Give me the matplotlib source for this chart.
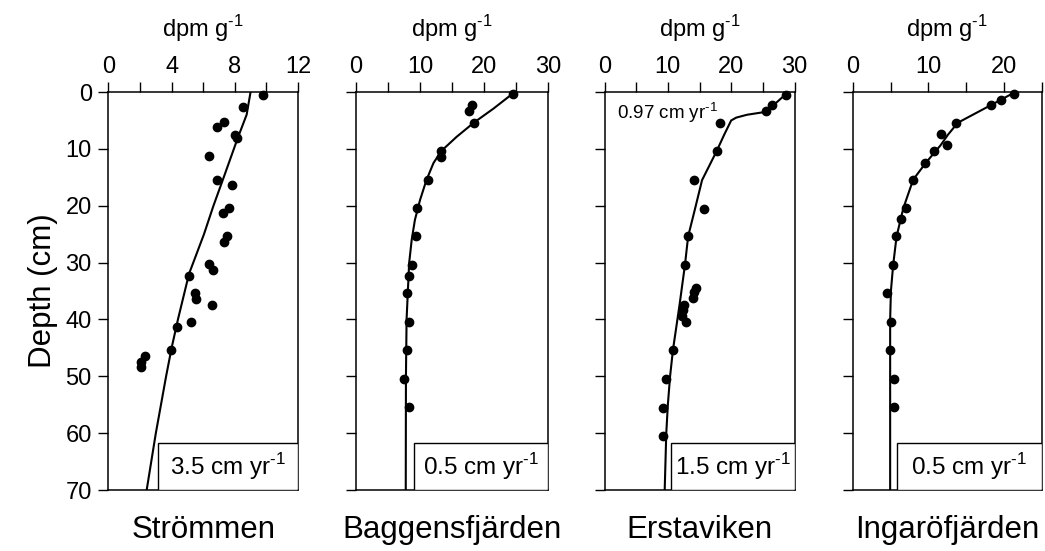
import matplotlib
matplotlib.use('Agg')
import matplotlib.pyplot as plt
from matplotlib.patches import Rectangle

plt.rcParams['font.family'] = ['Liberation Sans', 'DejaVu Sans']
plt.rcParams['mathtext.fontset'] = 'custom'
plt.rcParams['mathtext.rm'] = 'Liberation Sans'

# station names
stations = ['Strömmen', 'Baggensfjärden', 'Erstaviken', 'Ingaröfjärden']
rates = ['3.5', '0.5', '1.5', '0.5']

# measured profiles (depth cm, activity dpm/g)
strommen_depth = [0.5, 2.6, 5.2, 6.2, 7.6, 8.1, 11.3, 15.5, 16.4, 20.4, 21.3, 25.3, 26.4,
                  30.3, 31.3, 32.3, 35.4, 36.4, 37.4, 40.4, 41.4, 45.4, 46.4, 47.4, 48.4]
strommen_act = [9.8, 8.5, 7.3, 6.85, 8.0, 8.15, 6.35, 6.9, 7.8, 7.65, 7.25, 7.5, 7.3,
                6.35, 6.65, 5.07, 5.5, 5.55, 6.55, 5.2, 4.35, 3.97, 2.3, 2.04, 2.06]
baggen_depth = [0.4, 2.3, 3.3, 5.4, 10.4, 11.4, 15.5, 20.4, 25.4, 30.4, 32.4, 35.4,
                40.4, 45.4, 50.4, 55.4]
baggen_act = [24.6, 18.1, 17.7, 18.4, 13.3, 13.3, 11.3, 9.6, 9.3, 8.7, 8.2, 7.9,
              8.2, 7.9, 7.55, 8.2]
ersta_depth = [0.5, 2.3, 3.3, 5.5, 10.4, 15.5, 20.5, 25.4, 30.4, 34.4, 35.1, 36.3,
               37.4, 38.3, 39.4, 40.4, 45.4, 50.5, 55.6, 60.5]
ersta_act = [28.7, 26.4, 25.5, 18.3, 17.7, 14.1, 15.7, 13.2, 12.7, 14.5, 14.2, 13.9,
             12.5, 12.35, 12.3, 12.8, 10.8, 9.65, 9.2, 9.2]
ingaro_depth = [0.4, 1.35, 2.3, 5.4, 7.4, 9.4, 10.4, 12.4, 15.4, 20.4, 22.3, 25.4,
                30.4, 35.4, 40.4, 45.4, 50.4, 55.4]
ingaro_act = [21.3, 19.6, 18.3, 13.7, 11.7, 12.5, 10.8, 9.6, 8.0, 7.05, 6.45, 5.75,
              5.3, 4.5, 5.05, 4.9, 5.5, 5.5]

# model curves
strommen_fit_depth = [0, 4, 8, 15, 20, 25, 32, 40, 45, 50, 60, 70]
strommen_fit = [9.0, 8.75, 8.2, 7.3, 6.65, 6.05, 5.1, 4.4, 4.0, 3.65, 3.0, 2.42]
baggen_fit_depth = [0, 2.9, 5.4, 7.9, 10.4, 12.5, 15.5, 19.0, 22.5, 26.0, 30.1, 40, 50, 70]
baggen_fit = [24.8, 21.5, 18.4, 15.7, 13.3, 12.1, 11.0, 10.0, 9.2, 8.7, 8.3, 7.9, 7.8, 7.77]
ersta_fit_depth = [0, 1.5, 2.5, 3.5, 4.0, 4.5, 5.0, 7.5, 10.4, 15.5, 20.5, 25.4, 30.4,
                   37.4, 45.4, 50, 55, 60, 70]
ersta_fit = [29.0, 27.5, 26.5, 25.4, 22.5, 20.8, 20.0, 18.9, 17.7, 15.4, 14.3, 13.2, 12.7,
             11.85, 10.8, 10.35, 10.0, 9.75, 9.5]
ingaro_fit_depth = [0, 2.5, 5.4, 7.5, 9.4, 12.4, 15.4, 20.4, 25.4, 30.4, 35, 40, 70]
ingaro_fit = [21.5, 18.0, 13.9, 12.6, 11.6, 9.7, 8.0, 6.7, 5.8, 5.35, 5.05, 4.95, 4.95]

xmax = [12, 30, 30, 25]
xticks = [[0, 2, 4, 6, 8, 10, 12], [0, 5, 10, 15, 20, 25, 30],
          [0, 5, 10, 15, 20, 25, 30], [0, 5, 10, 15, 20, 25]]
xticklabels = [['0', '', '4', '', '8', '', '12'], ['0', '', '10', '', '20', '', '30'],
               ['0', '', '10', '', '20', '', '30'], ['0', '', '10', '', '20', '']]
depth_ticks = [0, 10, 20, 30, 40, 50, 60, 70]

points = [(strommen_act, strommen_depth), (baggen_act, baggen_depth),
          (ersta_act, ersta_depth), (ingaro_act, ingaro_depth)]
fits = [(strommen_fit, strommen_fit_depth), (baggen_fit, baggen_fit_depth),
        (ersta_fit, ersta_fit_depth), (ingaro_fit, ingaro_fit_depth)]

lefts = [0.1038, 0.3407, 0.5785, 0.816]
widths = [0.1813, 0.1837, 0.1818, 0.1809]
box_x0 = [0.26, 0.30, 0.35, 0.236]

unit = ' cm yr$^{\\mathregular{\u2010 1}}$'

fig = plt.figure(figsize=(10.45, 5.51), dpi=100)

for i in range(4):
    ax = fig.add_axes([lefts[i], 0.1107, widths[i], 0.7223])
    ax.plot(fits[i][0], fits[i][1], color='black', lw=1.5, zorder=2)
    ax.plot(points[i][0], points[i][1], 'o', color='black', ms=6, zorder=3, clip_on=False)
    ax.set_xlim(0, xmax[i])
    ax.set_ylim(70, 0)
    ax.xaxis.tick_top()
    ax.xaxis.set_label_position('top')
    ax.set_xticks(xticks[i])
    ax.set_xticklabels(xticklabels[i])
    ax.set_yticks(depth_ticks)
    ax.tick_params(axis='x', direction='out', length=7, width=1, labelsize=17, pad=3)
    ax.tick_params(axis='y', direction='out', length=7, width=1, labelsize=17, pad=5)
    if i > 0:
        ax.set_yticklabels([])
    else:
        ax.set_ylabel('Depth (cm)', fontsize=22.5, labelpad=5)
    for s in ax.spines.values():
        s.set_linewidth(1.1)
    ax.set_xlabel('dpm g$^{\\mathregular{\u2010 1}}$', fontsize=17, labelpad=14)

    rect = Rectangle((box_x0[i], 0), 1 - box_x0[i], 0.118, transform=ax.transAxes,
                     facecolor='white', edgecolor='black', lw=1.0, zorder=4)
    ax.add_patch(rect)
    ax.text((box_x0[i] + 1) / 2, 0.059, rates[i] + unit,
            transform=ax.transAxes, ha='center', va='center', fontsize=17.5, zorder=5)
    ax.text(0.5, -0.1, stations[i], transform=ax.transAxes, ha='center', va='center',
            fontsize=22.5)
    if i == 2:
        ax.text(2.0, 3.6, '0.97' + unit, ha='left', va='center', fontsize=13.5)

plt.savefig('out.png', dpi=100)
